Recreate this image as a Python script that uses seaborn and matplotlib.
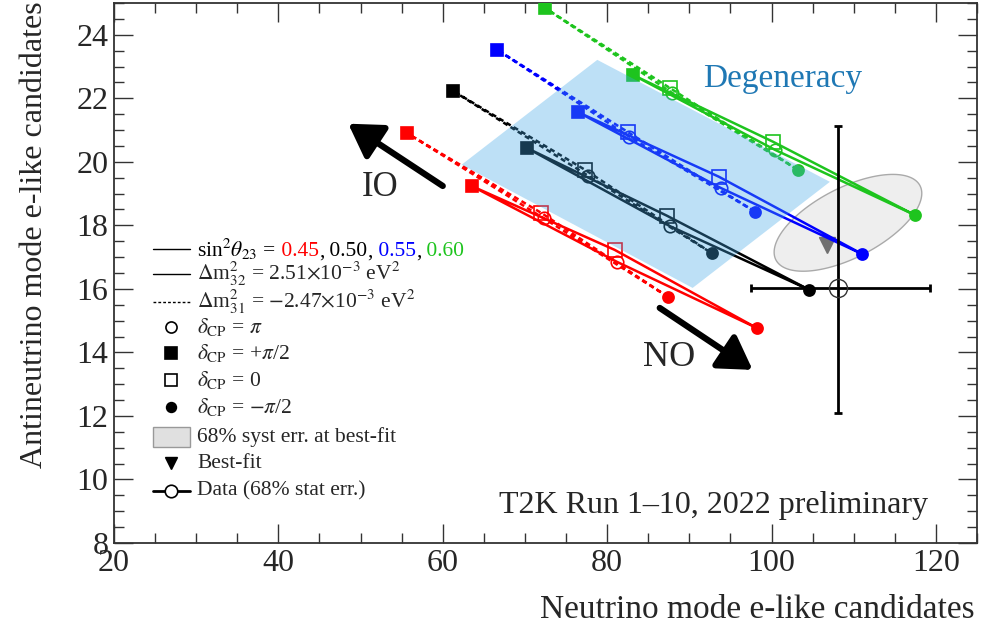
import numpy as np
import pandas as pd
import matplotlib
matplotlib.use("Agg")
import matplotlib.pyplot as plt
import seaborn as sns
from matplotlib.patches import Polygon, Rectangle
from matplotlib.lines import Line2D
from matplotlib.ticker import MultipleLocator
from matplotlib.offsetbox import TextArea, HPacker, AnnotationBbox

# ---------------------------------------------------------------------------
# Data
# ---------------------------------------------------------------------------
theta_labels = ["0.45", "0.50", "0.55", "0.60"]
theta_colors = ["#ff0000", "#000000", "#0000ff", "#1ec41e"]

# normal ordering (solid), one value per sin^2 theta23
no_pi_half_x = [63.5, 70.2, 76.4, 83.1]
no_pi_half_y = [19.24, 20.44, 21.57, 22.74]
no_zero_x = [80.9, 87.3, 93.6, 100.2]
no_zero_y = [17.23, 18.30, 19.53, 20.63]
no_pi_x = [81.2, 87.6, 93.8, 100.4]
no_pi_y = [16.85, 17.98, 19.18, 20.38]
no_mpi_half_x = [98.2, 104.6, 111.0, 117.4]
no_mpi_half_y = [14.77, 15.97, 17.10, 18.33]

# inverted ordering (dashed)
io_pi_half_x = [55.6, 61.2, 66.6, 72.4]
io_pi_half_y = [20.91, 22.24, 23.53, 24.85]
io_zero_x = [72.0, 77.3, 82.5, 87.6]
io_zero_y = [18.39, 19.75, 20.94, 22.33]
io_pi_x = [72.3, 77.7, 82.7, 87.9]
io_pi_y = [18.22, 19.56, 20.79, 22.17]
io_mpi_half_x = [87.4, 92.7, 98.0, 103.2]
io_mpi_half_y = [15.75, 17.13, 18.43, 19.75]

# data point with asymmetric stat errors
data_x, data_y = 108.1, 16.03
data_xerr = [10.6, 11.2]
data_yerr = [3.95, 5.1]

# best fit and 68% syst ellipse (centre + two conjugate half axes)
bestfit_x, bestfit_y = 106.7, 17.39
syst_center = [109.3, 18.08]
syst_axis_u = [8.8, 1.15]
syst_axis_v = [-1.8, 1.0]

# degeneracy band corners
degen_x = [62.3, 78.8, 107.1, 90.4]
degen_y = [19.91, 23.21, 19.37, 16.03]

# ---------------------------------------------------------------------------
sns.set_style("ticks")
plt.rcParams['font.family'] = ['Liberation Serif', 'DejaVu Serif']
plt.rcParams['mathtext.fontset'] = 'stix'

fig = plt.figure(figsize=(9.93, 6.39), dpi=100)
ax = fig.add_axes([114 / 993, 1 - 543 / 639, 863 / 993, 540 / 639])

pts = {
    "NO": {"pi_half": (no_pi_half_x, no_pi_half_y), "zero": (no_zero_x, no_zero_y),
           "pi": (no_pi_x, no_pi_y), "mpi_half": (no_mpi_half_x, no_mpi_half_y)},
    "IO": {"pi_half": (io_pi_half_x, io_pi_half_y), "zero": (io_zero_x, io_zero_y),
           "pi": (io_pi_x, io_pi_y), "mpi_half": (io_mpi_half_x, io_mpi_half_y)},
}
loop = ["mpi_half", "zero", "pi_half", "pi", "mpi_half"]

rows = []
for ordering, d in pts.items():
    for i, th in enumerate(theta_labels):
        for step, key in enumerate(loop):
            rows.append(dict(theta=th, ordering=ordering, loop=f"{ordering}{th}",
                             step=step, x=d[key][0][i], y=d[key][1][i]))
df = pd.DataFrame(rows)

sns.lineplot(data=df, x="x", y="y", hue="theta", style="ordering", units="loop",
             estimator=None, sort=False, palette=dict(zip(theta_labels, theta_colors)),
             dashes={"NO": "", "IO": (2.0, 1.4)}, lw=1.8, legend=False, ax=ax, zorder=2)

marker_style = {
    "pi_half": dict(marker="s", ms=8, filled=True),
    "zero": dict(marker="s", ms=10, filled=False),
    "pi": dict(marker="o", ms=9, filled=False),
    "mpi_half": dict(marker="o", ms=8, filled=True),
}
for ordering, d in pts.items():
    for key, st in marker_style.items():
        for i, c in enumerate(theta_colors):
            ax.plot(d[key][0][i], d[key][1][i], marker=st["marker"], ms=st["ms"],
                    mfc=c if st["filled"] else "none", mec=c, mew=1.2, ls="none", zorder=3)

# syst ellipse
t = np.linspace(0, 2 * np.pi, 200)
ex = syst_center[0] + syst_axis_u[0] * np.cos(t) + syst_axis_v[0] * np.sin(t)
ey = syst_center[1] + syst_axis_u[1] * np.cos(t) + syst_axis_v[1] * np.sin(t)
ax.fill(ex, ey, facecolor="#eeeeee", edgecolor="#aaaaaa", lw=1, zorder=1)
ax.plot(bestfit_x, bestfit_y, marker="v", ms=11, color="#707070", ls="none", zorder=1.5)

# degeneracy band (translucent overlay)
ax.add_patch(Polygon(list(zip(degen_x, degen_y)), closed=True, facecolor=(0.26, 0.66, 0.91),
                     alpha=0.35, lw=0, zorder=5))
ax.text(101.3, 22.62, "Degeneracy", color="#1f78b4", fontsize=24, ha="center", va="center")

# data
ax.errorbar(data_x, data_y, xerr=[[data_xerr[0]], [data_xerr[1]]],
            yerr=[[data_yerr[0]], [data_yerr[1]]], fmt="o", ms=13, mfc="none",
            mec="#333333", color="black", lw=2, capsize=3, capthick=2, zorder=6)

# IO / NO arrows
ax.annotate("", xy=(48.5, 21.2), xytext=(60.0, 19.24),
            arrowprops=dict(arrowstyle="-|>,head_length=0.9,head_width=0.55", lw=4.5,
                            color="black", mutation_scale=22, shrinkA=0, shrinkB=0))
ax.annotate("", xy=(97.7, 13.45), xytext=(86.4, 15.4),
            arrowprops=dict(arrowstyle="-|>,head_length=0.9,head_width=0.55", lw=4.5,
                            color="black", mutation_scale=22, shrinkA=0, shrinkB=0))
ax.text(52.4, 19.18, "IO", fontsize=25, ha="center", va="center")
ax.text(87.6, 13.83, "NO", fontsize=26, ha="center", va="center")

ax.text(0.943, 0.07, "T2K Run 1\u201310, 2022 preliminary", transform=ax.transAxes,
        fontsize=23, ha="right", va="center")

# axes
ax.set_xlim(20, 125)
ax.set_ylim(8, 25)
ax.xaxis.set_major_locator(MultipleLocator(20))
ax.xaxis.set_minor_locator(MultipleLocator(5))
ax.yaxis.set_major_locator(MultipleLocator(2))
ax.yaxis.set_minor_locator(MultipleLocator(0.5))
ax.tick_params(which="both", direction="in", top=True, right=True, labelsize=23,
               color="#333333", width=1)
ax.tick_params(which="major", length=14, pad=4)
ax.tick_params(which="minor", length=7)
for s in ax.spines.values():
    s.set_linewidth(1.3)
    s.set_color("#333333")
ax.set_xlabel("")
ax.set_ylabel("")
fig.text(975 / 993, 1 - 610 / 639, "Neutrino mode e-like candidates", fontsize=24,
         ha="right", va="center")
fig.text(35 / 993, 1 - 1 / 639, "Antineutrino mode e-like candidates", fontsize=23,
         rotation=90, ha="center", va="top")

# ---------------------------------------------------------------------------
# hand-made legend (figure pixels)
# ---------------------------------------------------------------------------
def fx(px):
    return px / 993

def fy(py):
    return 1 - py / 639

rows_y = [249, 274, 302, 327, 353, 380, 407, 437, 463, 491]
lx0, lx1, lxm, tx = 153, 190, 171, 197
fs = 15.5

for i, ls in enumerate(["-", "-", (0, (2, 1.5))]):
    fig.add_artist(Line2D([fx(lx0), fx(lx1)], [fy(rows_y[i])] * 2, color="black", lw=1,
                          ls=ls, transform=fig.transFigure))

pieces = [(r"sin$^{2}\theta_{23}$ =", "black"), (" 0.45", theta_colors[0]), (",", "black"),
          (" 0.50", theta_colors[1]), (",", "black"), (" 0.55", theta_colors[2]),
          (",", "black"), (" 0.60", theta_colors[3])]
box = HPacker(children=[TextArea(s, textprops=dict(color=c, fontsize=fs)) for s, c in pieces],
              align="baseline", pad=0, sep=0)
fig.add_artist(AnnotationBbox(box, (fx(tx), fy(rows_y[0])), xycoords="figure fraction",
                              box_alignment=(0, 0.5), frameon=False))

labels = [
    None,
    r"$\Delta$m$^{2}_{32}$ = 2.51$\times$10$^{-3}$ eV$^{2}$",
    r"$\Delta$m$^{2}_{31}$ = $-$2.47$\times$10$^{-3}$ eV$^{2}$",
    r"$\delta_{\rm CP}$ = $\pi$",
    r"$\delta_{\rm CP}$ = +$\pi$/2",
    r"$\delta_{\rm CP}$ = 0",
    r"$\delta_{\rm CP}$ = $-\pi$/2",
    "68% syst err. at best-fit",
    "Best-fit",
    "Data (68% stat err.)",
]
for i, lab in enumerate(labels):
    if lab is None:
        continue
    fig.text(fx(tx), fy(rows_y[i]), lab, fontsize=fs, ha="left", va="center")

leg_markers = [("o", 8, False), ("s", 8, True), ("s", 9, False), ("o", 7, True)]
for (m, ms, filled), ry in zip(leg_markers, rows_y[3:7]):
    fig.add_artist(Line2D([fx(lxm)], [fy(ry)], marker=m, ms=ms, mfc="black" if filled else "none",
                          mec="black", mew=1.2, ls="none", transform=fig.transFigure))
fig.add_artist(Rectangle((fx(lx0), fy(rows_y[7] + 10)), fx(lx1) - fx(lx0), 20 / 639,
                         facecolor="#e0e0e0", edgecolor="#999999", lw=1,
                         transform=fig.transFigure))
fig.add_artist(Line2D([fx(lxm)], [fy(rows_y[8])], marker="v", ms=8, color="black",
                      ls="none", transform=fig.transFigure))
fig.add_artist(Line2D([fx(lx0), fx(lx1)], [fy(rows_y[9])] * 2, color="black", lw=2,
                      transform=fig.transFigure))
fig.add_artist(Line2D([fx(lxm)], [fy(rows_y[9])], marker="o", ms=9, mfc="white",
                      mec="black", mew=1.2, ls="none", transform=fig.transFigure))

fig.savefig("out.png", dpi=100)
